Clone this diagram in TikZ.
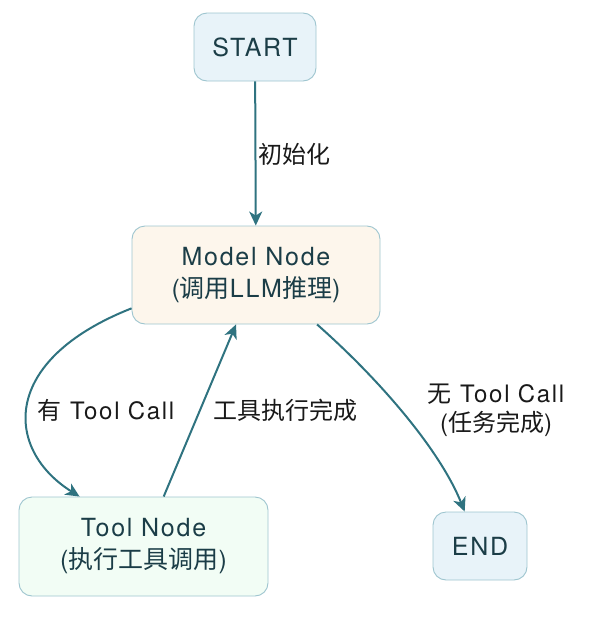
\documentclass[tikz,border=0pt]{standalone}
\usepackage{fontspec}
\setmainfont[LetterSpace=7]{TeX Gyre Heros}
\newfontfamily\cjk{Noto Sans CJK SC}
\usetikzlibrary{arrows.meta}
\definecolor{edgecol}{HTML}{2F7380}
\definecolor{bordercol}{HTML}{9EC5CF}
\definecolor{blueFill}{HTML}{E8F3F9}
\definecolor{creamFill}{HTML}{FDF6EC}
\definecolor{greenFill}{HTML}{F2FDF5}
\definecolor{nodetext}{HTML}{1B3D47}
\begin{document}
\begin{tikzpicture}[x=1pt,y=-1pt,
  box/.style={draw=bordercol,line width=0.9pt,rounded corners=13pt,inner sep=0pt,
    text=nodetext,align=center,font=\fontsize{25}{32}\selectfont},
  arr/.style={draw=edgecol,line width=2pt,-{Stealth[length=14pt,width=13pt,inset=4pt]}},
  lbl/.style={inner sep=0pt,align=center,text=black!90,font=\fontsize{24}{29}\selectfont}]
\useasboundingbox (0,0) rectangle (596,621);
\node[box,fill=blueFill,minimum width=122pt,minimum height=68pt] (start) at (255,47) {START};
\node[box,fill=creamFill,minimum width=248pt,minimum height=98pt] (model) at (256,275)
  {Model Node\\({\cjk 调用}LLM{\cjk 推理})};
\node[box,fill=greenFill,minimum width=249pt,minimum height=99pt] (tool) at (143.5,546.5)
  {Tool Node\\({\cjk 执行工具调用})};
\node[box,fill=blueFill,minimum width=94pt,minimum height=68pt] (end) at (480,546) {END};

\draw[arr] (start) -- (model);
\node[lbl,anchor=west] (l1) at (258,154) {\cjk 初始化};

\draw[arr] (model.195) .. controls +(-132,52) and +(-75,-47) .. (tool.142);
\node[lbl] (l2) at (106,410) {{\cjk 有} Tool Call};

\draw[arr] (tool.68.5) -- (model.248);
\node[lbl] (l3) at (285,410) {\cjk 工具执行完成};

\draw[arr] (model.321.7) .. controls (380,380) and (440,450) .. (end.114.4);
\node[lbl] (l4) at (496,410) {{\cjk 无} Tool Call\\({\cjk 任务完成})};
\end{tikzpicture}
\end{document}
